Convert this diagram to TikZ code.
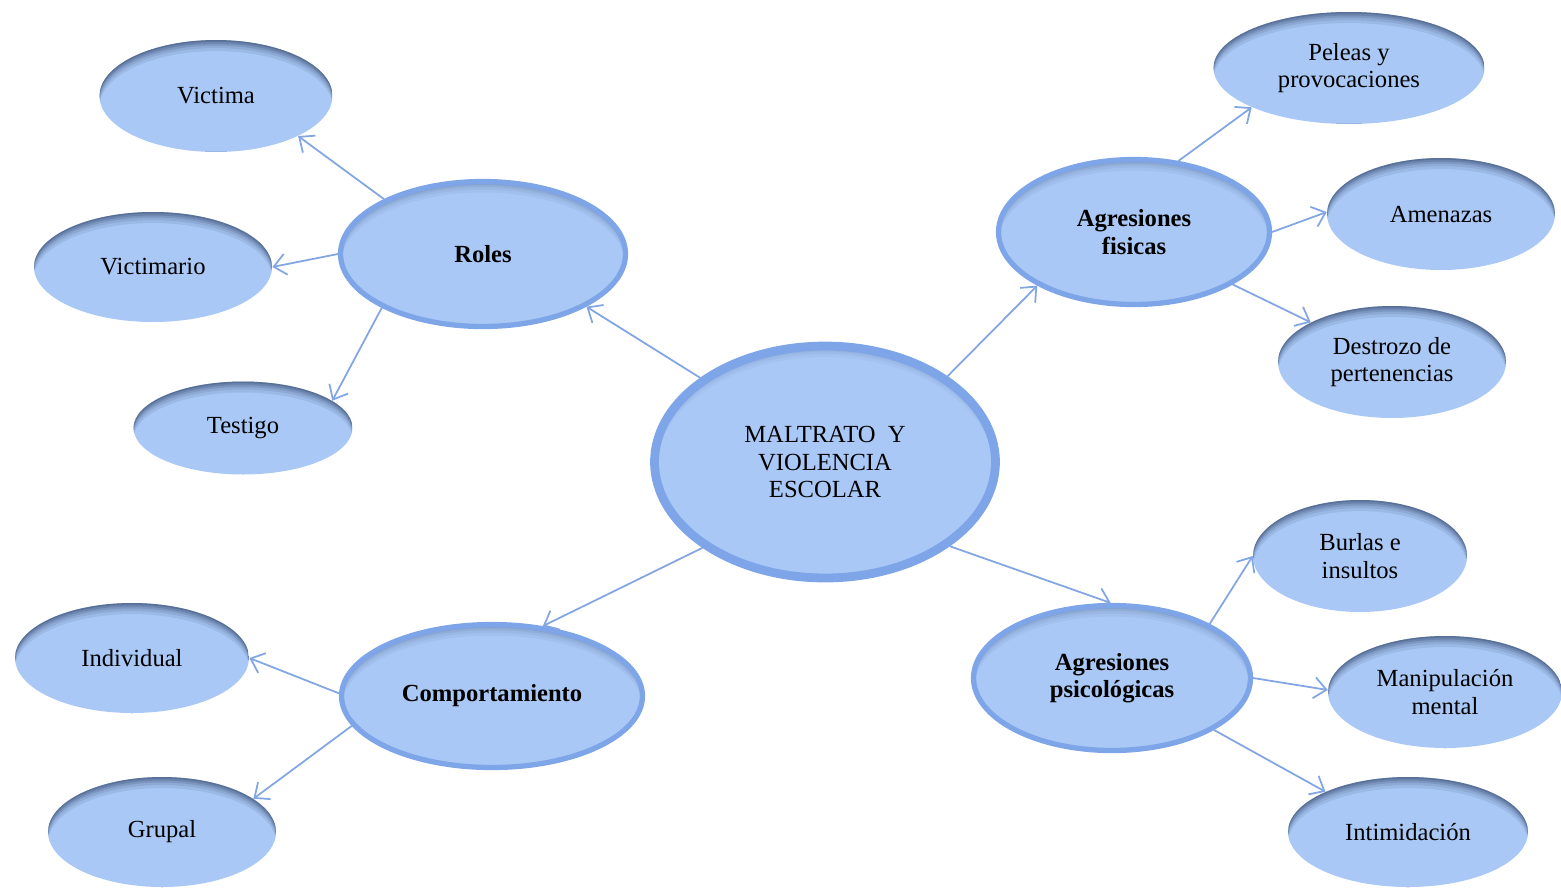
\documentclass[tikz,border=0pt]{standalone}
\usepackage{fontspec}
\setmainfont{Liberation Serif}
\usetikzlibrary{shapes.geometric,arrows.meta,calc}

\definecolor{bubble}{RGB}{169,200,245}
\definecolor{rim}{RGB}{125,165,232}
\definecolor{shadeblue}{RGB}{40,58,95}
\definecolor{linkblue}{RGB}{130,165,228}

\tikzset{
  inner shadow/.style={path picture={
    \foreach \d/\o in {11/0.10,8/0.12,5.5/0.16,3.5/0.2,1.5/0.28}{
      \fill[shadeblue,opacity=#1*\o,even odd rule]
        let \p1=(path picture bounding box.south west),
            \p2=(path picture bounding box.north east) in
        (\p1) rectangle (\p2)
        ($(\p1)!.5!(\p2)+(0,\d)$) ellipse ({(\x2-\x1)/2} and {(\y2-\y1)/2});
    }}},
  inner shadow/.default=1,
  leaf/.style={ellipse, fill=bubble, inner sep=0pt, align=center,
    font=\fontsize{14}{15.5}\selectfont, inner shadow},
  branch/.style={leaf, draw=rim, line width=3pt, inner shadow=0.5,
    font=\fontsize{14}{15.5}\selectfont\bfseries},
  core/.style={leaf, draw=rim, line width=5pt, inner shadow=0.4},
  link/.style={draw=linkblue, line width=1pt,
    -{Straight Barb[length=7pt,width=12pt]}}
}

\begin{document}
\begin{tikzpicture}[x=0.02cm,y=-0.02cm]
  \useasboundingbox (0,0) rectangle (1561,887);

  % centre
  \node[core, minimum width=6.82cm, minimum height=4.64cm] (core) at (825,462)
    {MALTRATO~~Y\\VIOLENCIA\\ESCOLAR};

  % branches
  \node[branch, minimum width=5.7cm, minimum height=2.9cm] (roles) at (483,254) {Roles};
  \node[branch, minimum width=5.42cm, minimum height=2.9cm] (fisicas) at (1134,232) {Agresiones\\fisicas};
  \node[branch, minimum width=6.02cm, minimum height=2.86cm] (comport) at (492,696) {Comportamiento};
  \node[branch, minimum width=5.54cm, minimum height=2.9cm] (psico) at (1112,678) {Agresiones\\psicológicas};

  % leaves
  \node[leaf, minimum width=4.66cm, minimum height=2.24cm] (victima) at (216,96) {Victima};
  \node[leaf, minimum width=4.76cm, minimum height=2.2cm] (victimario) at (153,267) {Victimario};
  \node[leaf, minimum width=4.38cm, minimum height=1.86cm] (testigo) at (243,428) {Testigo};
  \node[leaf, minimum width=4.68cm, minimum height=2.2cm] (individual) at (132,658) {Individual};
  \node[leaf, minimum width=4.56cm, minimum height=2.2cm] (grupal) at (162,832) {Grupal};
  \node[leaf, minimum width=5.42cm, minimum height=2.24cm] (peleas) at (1349,68) {Peleas y\\provocaciones};
  \node[leaf, minimum width=4.56cm, minimum height=2.24cm] (amenazas) at (1441,214) {Amenazas};
  \node[leaf, minimum width=4.56cm, minimum height=2.24cm] (destrozo) at (1392,362) {Destrozo de\\pertenencias};
  \node[leaf, minimum width=4.28cm, minimum height=2.24cm] (burlas) at (1360,556) {Burlas e\\insultos};
  \node[leaf, minimum width=4.68cm, minimum height=2.24cm] (manip) at (1445,692) {Manipulación\\mental};
  \node[leaf, minimum width=4.8cm, minimum height=2.2cm] (intim) at (1408,832) {Intimidación};

  % connectors
  \draw[link] (core.146) -- (roles.333);
  \draw[link] (core.35) -- (fisicas.209);
  \draw[link] (core.215) -- (comport.54);
  \draw[link] (core.326) -- (psico.91);

  \draw[link] (roles.151) -- (victima.334);
  \draw[link] (roles.180) -- (victimario.0);
  \draw[link] (roles.208) -- (testigo.17);

  \draw[link] (fisicas.58) -- (peleas.202);
  \draw[link] (fisicas.0) -- (amenazas.179);
  \draw[link] (fisicas.332) -- (destrozo.154);

  \draw[link] (psico.29) -- (burlas.180);
  \draw[link] (psico.0) -- (manip.179);
  \draw[link] (psico.333) -- (intim.154);

  \draw[link] (comport.179) -- (individual.0);
  \draw[link] (comport.192) -- (grupal.20);
\end{tikzpicture}
\end{document}
